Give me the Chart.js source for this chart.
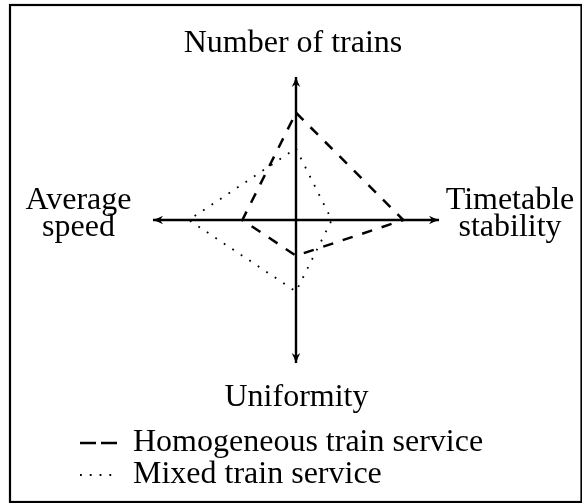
<!DOCTYPE html>
<html>
<head>
<meta charset="utf-8">
<script src="https://cdn.jsdelivr.net/npm/chart.js@4.4.1/dist/chart.umd.min.js"></script>
<style>
  html, body { margin: 0; padding: 0; background: #fff; }
  #wrap { width: 582px; height: 503px; }
</style>
</head>
<body>
<div id="wrap"><canvas id="radar" width="582" height="503"></canvas></div>
<script>
// axes, clockwise from the top
const axisLabels = [['Number of trains'], ['Timetable', 'stability'], ['Uniformity'], ['Average', 'speed']];
const seriesNames = ['Homogeneous train service', 'Mixed train service'];
const homogeneous = [3, 3, 1, 1.5];
const mixed = [2, 1, 2, 3];
const axisMax = 4;

const serif = "'Liberation Serif', 'Times New Roman', serif";

// where each axis label sits relative to the arrow tip
const labelOffsets = [
    { dx: -3, dy: -25 },
    { dx: 71, dy: -11 },
    { dx: 0.5, dy: 43 },
    { dx: -74.5, dy: -11 },
];
const labelLineGap = 26.5;

const axisDecor = {
    id: 'axisDecor',
    afterDraw(chart) {
        const scale = chart.scales.r;
        const ctx = chart.ctx;
        ctx.save();

        for (let i = 0; i < axisLabels.length; i++) {
            // arrow head at the end of the axis
            const tip = scale.getPointPosition(i, scale.drawingArea);
            const ang = Math.atan2(tip.y - scale.yCenter, tip.x - scale.xCenter);
            ctx.save();
            ctx.translate(tip.x, tip.y);
            ctx.rotate(ang);
            ctx.fillStyle = '#000';
            ctx.beginPath();
            ctx.moveTo(0.5, 0);
            ctx.quadraticCurveTo(-4.5, 1.4, -10, 4.3);
            ctx.lineTo(-7, 0);
            ctx.lineTo(-10, -4.3);
            ctx.quadraticCurveTo(-4.5, -1.4, 0.5, 0);
            ctx.fill();
            ctx.restore();

            // axis label
            const off = labelOffsets[i];
            ctx.fillStyle = '#000';
            ctx.font = '32px ' + serif;
            ctx.textAlign = 'center';
            ctx.textBaseline = 'alphabetic';
            axisLabels[i].forEach((line, k) => {
                ctx.fillText(line, tip.x + off.dx, tip.y + off.dy + k * labelLineGap);
            });
        }

        // frame around the figure
        ctx.strokeStyle = '#000';
        ctx.lineWidth = 2.2;
        ctx.strokeRect(10, 5, 571.5, 497);
        ctx.restore();
    }
};

const dashStyles = [[10.5, 10], [1.8, 8.4]];
const legendDash = [[16, 5], [1.8, 8]];
const widths = [2.5, 1.8];

new Chart(document.getElementById('radar'), {
    type: 'radar',
    data: {
        labels: axisLabels,
        datasets: [
            {
                label: seriesNames[0],
                data: homogeneous,
                borderColor: '#000',
                borderWidth: widths[0],
                borderDash: dashStyles[0],
                fill: false,
                pointRadius: 0,
            },
            {
                label: seriesNames[1],
                data: mixed,
                borderColor: '#000',
                borderWidth: widths[1],
                borderDash: dashStyles[1],
                fill: false,
                pointRadius: 0,
            },
        ],
    },
    options: {
        responsive: false,
        animation: false,
        devicePixelRatio: 1,
        layout: { padding: { left: 80, right: 70, top: 77, bottom: 2 } },
        elements: { line: { tension: 0, borderCapStyle: 'butt', borderJoinStyle: 'miter' } },
        scales: {
            r: {
                min: 0,
                max: axisMax,
                ticks: { display: false },
                grid: { display: false },
                angleLines: { color: '#000', lineWidth: 2.4 },
                pointLabels: { display: false },
            },
        },
        plugins: {
            tooltip: { enabled: false },
            legend: {
                position: 'bottom',
                align: 'start',
                title: { display: true, text: '', font: { size: 10 }, padding: { top: 52, bottom: 0 } },
                labels: {
                    usePointStyle: true,
                    pointStyle: 'line',
                    pointStyleWidth: 37,
                    padding: 0,
                    color: '#000',
                    font: { family: serif, size: 32 },
                    generateLabels: (chart) => chart.data.datasets.map((ds, i) => ({
                        text: ds.label,
                        datasetIndex: i,
                        fillStyle: 'rgba(0,0,0,0)',
                        strokeStyle: '#000',
                        fontColor: '#000',
                        lineWidth: i === 0 ? 2.3 : 1.8,
                        lineDash: legendDash[i],
                        lineCap: 'butt',
                        pointStyle: 'line',
                        hidden: false,
                    })),
                },
            },
        },
    },
    plugins: [axisDecor],
});
</script>
</body>
</html>
